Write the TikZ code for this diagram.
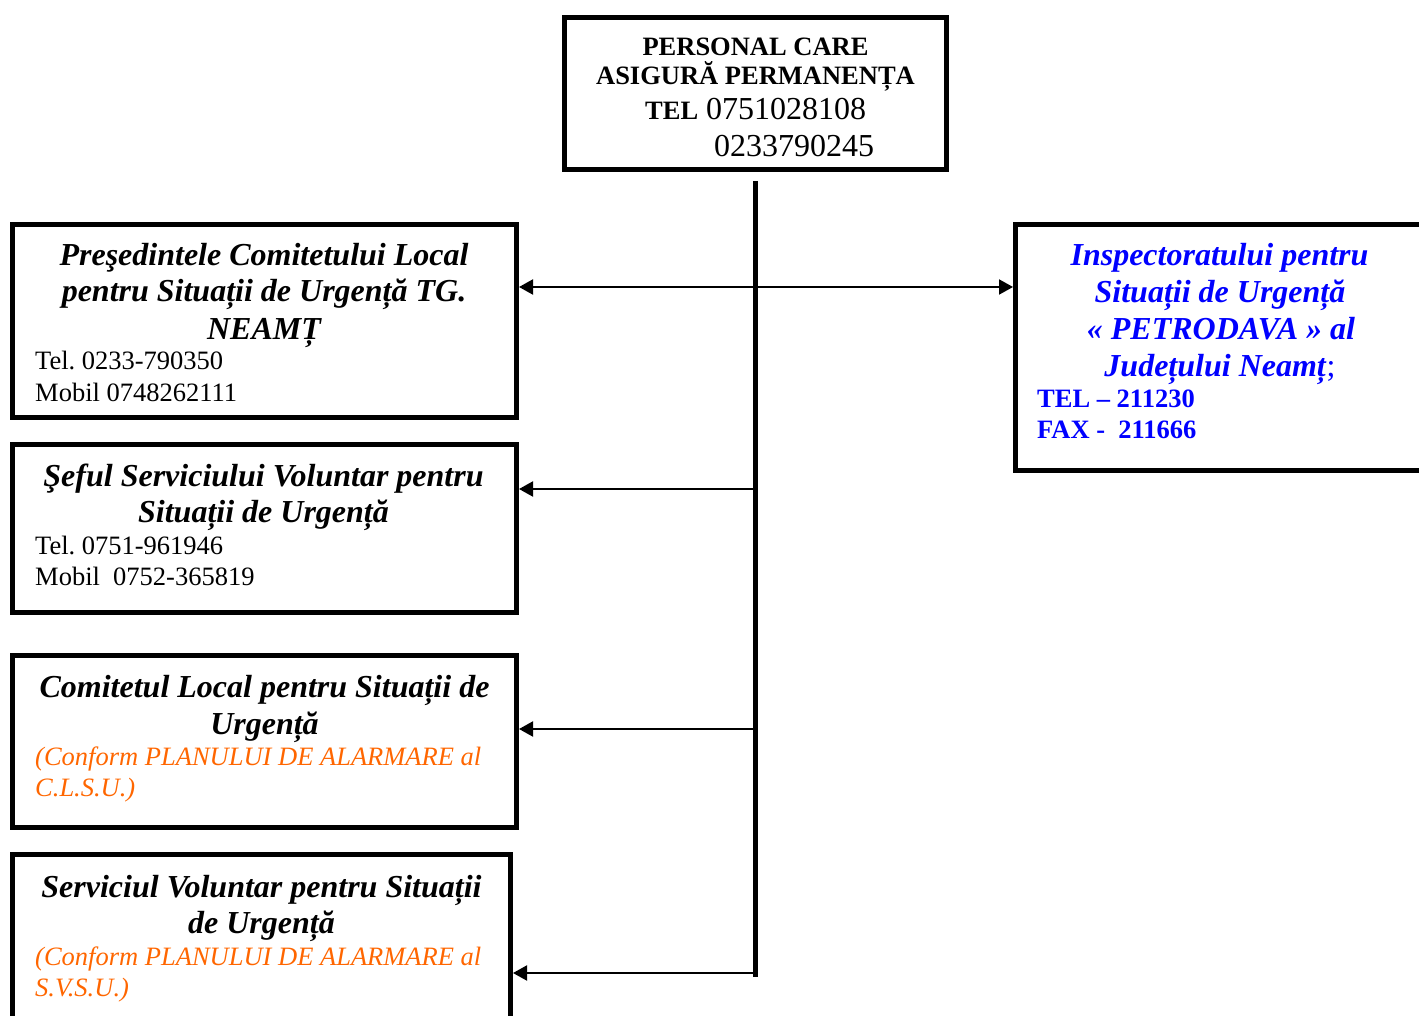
\documentclass[tikz,border=0pt]{standalone}
\usepackage{fontspec}
\setmainfont{Liberation Serif}
\usetikzlibrary{arrows.meta,calc}
\definecolor{orng}{RGB}{255,102,0}
\definecolor{blu}{RGB}{0,0,255}
\frenchspacing
\tikzset{
  box/.style={draw, line width=5pt, rectangle, inner sep=0},
  ttl/.style={font=\fontsize{32}{36}\selectfont\bfseries\itshape, anchor=base, inner sep=0},
  info/.style={font=\fontsize{26.5}{30}\selectfont, anchor=base west, inner sep=0},
  hdr/.style={font=\fontsize{26.5}{30}\selectfont\bfseries, inner sep=0},
  big/.style={font=\fontsize{32}{36}\selectfont, anchor=base west, inner sep=0},
  note/.style={font=\fontsize{26.5}{30}\selectfont\itshape, text=orng, anchor=base west, inner sep=0},
  arr/.style={line width=2pt, -{Triangle[length=14pt,width=15pt]}},
  barr/.style={line width=2pt, {Triangle[length=14pt,width=15pt]}-{Triangle[length=14pt,width=15pt]}},
}
\begin{document}
\begin{tikzpicture}[x=1pt,y=-1pt]
\useasboundingbox (0,0) rectangle (1419,1016);
\clip (0,0) rectangle (1419,1016);
% boxes
\node[box, minimum width=382pt, minimum height=152pt] (top) at (755.5,93.5) {};
\node[box, minimum width=504pt, minimum height=193pt] (b1) at (264.5,321) {};
\node[box, minimum width=504pt, minimum height=168pt] (b2) at (264.5,528.5) {};
\node[box, minimum width=504pt, minimum height=172pt] (b3) at (264.5,741.5) {};
\node[box, minimum width=498pt, minimum height=180pt] (b4) at (261.5,944.5) {};
\node[box, minimum width=410pt, minimum height=246pt] (rb) at (1220.5,347.5) {};
% top text
\node[hdr, anchor=base] (t1) at (755.5,56) {PERSONAL CARE};
\node[hdr, anchor=base] (t2) at (755.5,85) {ASIGURĂ PERMANENȚA};
\node[hdr, anchor=base west] (t3) at (645,120) {TEL};
\node[big] (t4) at (706,120) {0751028108};
\node[big] (t5) at (714,157) {0233790245};
% box 1
\node[ttl] (a1) at (264,266) {Preşedintele Comitetului Local};
\node[ttl] (a2) at (264,302) {pentru Situații de Urgență TG.};
\node[ttl] (a3) at (264,339) {NEAMȚ};
\node[info] (a4) at (35,370) {Tel. 0233-790350};
\node[info] (a5) at (35,401) {Mobil 0748262111};
% box 2
\node[ttl] (c1) at (263.5,486) {Şeful Serviciului Voluntar pentru};
\node[ttl] (c2) at (263.5,522) {Situații de Urgență};
\node[info] (c3) at (35,554) {Tel. 0751-961946};
\node[info] (c4) at (35,585) {Mobil\ \ 0752-365819};
% box 3
\node[ttl] (d1) at (264.5,697) {Comitetul Local pentru Situații de};
\node[ttl] (d2) at (264.5,734) {Urgență};
\node[note] (d3) at (35,765) {(Conform PLANULUI DE ALARMARE al};
\node[note] (d4) at (35,796) {C.L.S.U.)};
% box 4
\node[ttl] (e1) at (261.5,897) {Serviciul Voluntar pentru Situații};
\node[ttl] (e2) at (261.5,933) {de Urgență};
\node[note] (e3) at (35,965) {(Conform PLANULUI DE ALARMARE al};
\node[note] (e4) at (35,996) {S.V.S.U.)};
% right box
\node[ttl, text=blu] (r1) at (1219.5,266) {Inspectoratului pentru};
\node[ttl, text=blu] (r2) at (1220,303) {Situații de Urgență};
\node[ttl, text=blu] (r3) at (1221,339) {« PETRODAVA » al};
\node[ttl, text=blu] (r4) at (1220,376) {Județului Neamț\textup{\mdseries;}};
\node[hdr, text=blu, anchor=base west] (r5) at (1037,407) {TEL – 211230};
\node[hdr, text=blu, anchor=base west] (r6) at (1037,438) {FAX -\ \ 211666};
% spine
\coordinate (s0) at (755,181);
\coordinate (s5) at (755,977);
\draw[line width=5pt] (s0) -- (s5);
\coordinate (s1) at (755,287);
\coordinate (s2) at (755,489);
\coordinate (s3) at (755,729);
\coordinate (s4) at (755,973);
\draw[barr] (s1 -| b1.east) -- (s1 -| rb.west);
\draw[arr] (s2) -- (s2 -| b2.east);
\draw[arr] (s3) -- (s3 -| b3.east);
\draw[arr] (s4) -- (s4 -| b4.east);
\end{tikzpicture}
\end{document}
